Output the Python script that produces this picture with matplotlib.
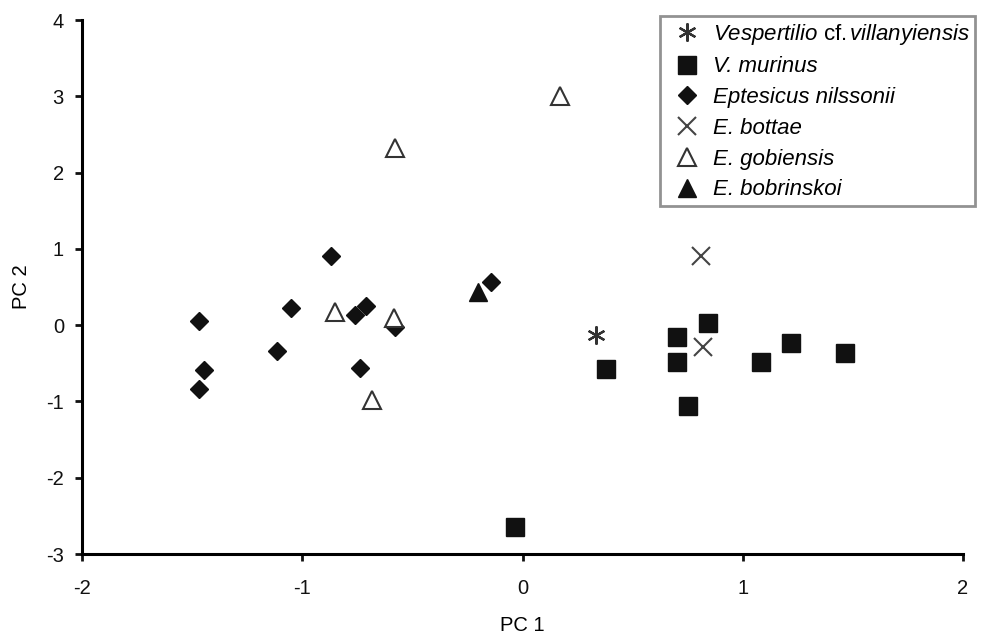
import matplotlib
matplotlib.use("Agg")
from matplotlib import pyplot as plt

plt.rcParams["font.family"] = ["Liberation Sans", "DejaVu Sans"]
plt.rcParams["axes.unicode_minus"] = False
plt.rcParams["mathtext.fontset"] = "custom"
plt.rcParams["mathtext.rm"] = "Liberation Sans"
plt.rcParams["mathtext.it"] = "Liberation Sans:italic"

# PCA scores
vespertilio_x = [0.335]
vespertilio_y = [-0.13]

murinus_x = [0.84, 0.70, 0.70, 0.377, 0.75, 1.085, 1.218, 1.464, -0.036]
murinus_y = [0.03, -0.15, -0.48, -0.58, -1.06, -0.48, -0.24, -0.37, -2.65]

nilssonii_x = [-0.87, -1.05, -1.115, -0.74, -0.76, -0.71, -0.58, -0.145, -1.468, -1.445, -1.47]
nilssonii_y = [0.90, 0.23, -0.34, -0.56, 0.13, 0.25, -0.02, 0.57, 0.05, -0.59, -0.84]

bottae_x = [0.81, 0.82]
bottae_y = [0.91, -0.28]

gobiensis_x = [0.168, -0.58, -0.85, -0.585, -0.685]
gobiensis_y = [3.0, 2.32, 0.17, 0.10, -0.985]

bobrinskoi_x = [-0.203]
bobrinskoi_y = [0.44]

fig = plt.figure(figsize=(9.89, 6.35), dpi=100)
ax = fig.add_axes([82 / 989, 1 - 554 / 635, (963 - 82) / 989, (554 - 20) / 635])

ax.plot(vespertilio_x, vespertilio_y, linestyle="none", marker=(6, 2, 0), markersize=13,
        markeredgecolor="#333333", markeredgewidth=1.6,
        label=r"$\it{Vespertilio}$ cf.$\,\it{villanyiensis}$")
ax.plot(murinus_x, murinus_y, linestyle="none", marker="s", markersize=13,
        color="#111111", label="V. murinus")
ax.plot(nilssonii_x, nilssonii_y, linestyle="none", marker="D", markersize=9.5,
        color="#111111", label="Eptesicus nilssonii")
ax.plot(bottae_x, bottae_y, linestyle="none", marker="x", markersize=13,
        markeredgecolor="#444444", markeredgewidth=1.5, label="E. bottae")
ax.plot(gobiensis_x, gobiensis_y, linestyle="none", marker="^", markersize=13,
        markerfacecolor="white", markeredgecolor="#333333", markeredgewidth=1.5,
        label="E. gobiensis")
ax.plot(bobrinskoi_x, bobrinskoi_y, linestyle="none", marker="^", markersize=13,
        color="#111111", label="E. bobrinskoi")

ax.set_xlim(-2, 2)
ax.set_ylim(-3, 4)
ax.set_xticks([-2, -1, 0, 1, 2])
ax.set_yticks(range(-3, 5))
ax.spines["top"].set_visible(False)
ax.spines["right"].set_visible(False)
ax.spines["left"].set_linewidth(2.2)
ax.spines["bottom"].set_linewidth(2.2)
ax.tick_params(direction="out", length=5, width=2, labelsize=14.5, colors="#111111")
ax.tick_params(axis="x", pad=13)
ax.tick_params(axis="y", pad=8)
ax.set_xlabel("PC 1", fontsize=14.5, labelpad=13)
ax.set_ylabel("PC 2", fontsize=14.5, labelpad=11)

leg = ax.legend(loc="upper right", bbox_to_anchor=(975 / 989, 1 - 16 / 635),
                bbox_transform=fig.transFigure, borderaxespad=0, fancybox=False,
                fontsize=16, handletextpad=0.16, labelspacing=0.44, borderpad=0.25,
                handlelength=1.94)
leg.get_frame().set_edgecolor("#777777")
leg.get_frame().set_linewidth(2)
for txt in leg.get_texts()[1:]:
    txt.set_fontstyle("italic")

fig.savefig("out.png", dpi=100)
